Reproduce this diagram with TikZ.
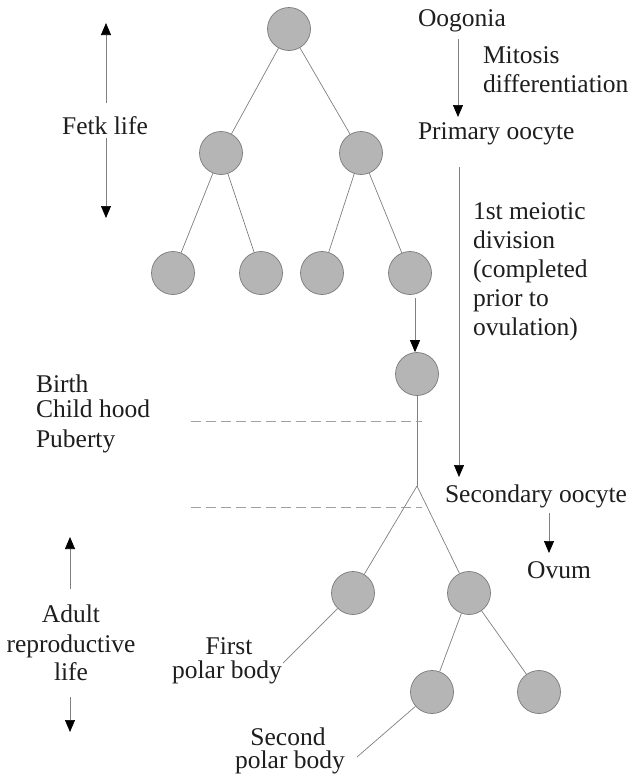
\documentclass[tikz,border=0pt]{standalone}
\usepackage{fontspec}
\setmainfont{Liberation Serif}
\usetikzlibrary{arrows.meta}
\definecolor{cellfill}{HTML}{B5B5B5}
\definecolor{celldraw}{HTML}{7A7A7A}
\definecolor{linec}{HTML}{808080}
\definecolor{dashc}{HTML}{A0A0A0}
\definecolor{txtc}{HTML}{1E1E1E}
\newcommand{\mainsize}{\fontsize{25.5}{29}\selectfont}
\begin{document}
\begin{tikzpicture}[x=1pt,y=-1pt,
  cell/.style={circle,minimum size=43pt,inner sep=0pt,fill=cellfill,draw=celldraw,line width=0.7pt},
  link/.style={draw=linec,line width=0.7pt},
  arr/.style={link,-{Triangle[length=12pt,width=10pt,color=black]}},
  dashline/.style={draw=dashc,line width=0.8pt,dash pattern=on 10pt off 5pt},
  lbl/.style={inner sep=0pt,outer sep=0pt,text=txtc,font=\mainsize}]
\fill[white] (0,0) rectangle (636,782);
\useasboundingbox (0,0) rectangle (636,782);

% fetal tree
\node[cell] (t1) at (289,29) {};
\node[cell] (l2a) at (221,153) {};
\node[cell] (l2b) at (361,153) {};
\node[cell] (l3a) at (173,273) {};
\node[cell] (l3b) at (261,273) {};
\node[cell] (l3c) at (322,273) {};
\node[cell] (l3d) at (410,273) {};
\draw[link] (t1) -- (l2a);
\draw[link] (t1) -- (l2b);
\draw[link] (l2a) -- (l3a);
\draw[link] (l2a) -- (l3b);
\draw[link] (l2b) -- (l3c);
\draw[link] (l2b) -- (l3d);

% primary oocyte after arrest
\node[cell] (c) at (417,374) {};
\coordinate (l3dout) at (415,298);
\draw[arr] (l3dout) -- (l3dout |- c.north);

% fork and adult tree
\coordinate (fork) at (417,486);
\node[cell] (b1) at (353,593) {};
\node[cell] (b2) at (469,593) {};
\node[cell] (b3) at (432,692) {};
\node[cell] (b4) at (539,692) {};
\draw[link] (c) -- (fork);
\draw[link] (fork) -- (b1);
\draw[link] (fork) -- (b2);
\draw[link] (b2) -- (b3);
\draw[link] (b2) -- (b4);
\coordinate (pb1end) at (283,663);
\coordinate (pb2end) at (357,757);
\draw[link] (b1) -- (pb1end);
\draw[link] (b3) -- (pb2end);

% dashed period lines
\coordinate (d1a) at (191,421);
\coordinate (d1b) at (422,421);
\coordinate (d2a) at (191,507);
\coordinate (d2b) at (422,507);
\draw[dashline] (d1a) -- (d1b);
\draw[dashline] (d2a) -- (d2b);

% right-hand labels
\node[lbl,anchor=base west] (oog) at (418,26) {Oogonia};
\node[lbl,anchor=base west] (mit1) at (483,63) {Mitosis};
\node[lbl,anchor=base west] (mit2) at (483,92) {differentiation};
\node[lbl,anchor=base west] (prim) at (418,139) {Primary oocyte};
\coordinate (m1a) at (458,39);
\coordinate (m1b) at (458,117);
\draw[arr] (m1a) -- (m1b);

\node[lbl,anchor=base west] (me1) at (473,219) {1st meiotic};
\node[lbl,anchor=base west] (me2) at (473,248) {division};
\node[lbl,anchor=base west] (me3) at (473,277) {(completed};
\node[lbl,anchor=base west] (me4) at (473,306) {prior to};
\node[lbl,anchor=base west] (me5) at (473,335) {ovulation)};
\coordinate (m2a) at (459,167);
\coordinate (m2b) at (459,477);
\draw[arr] (m2a) -- (m2b);

\node[lbl,anchor=base west] (sec) at (445,502) {Secondary oocyte};
\coordinate (ova) at (549,513);
\coordinate (ovb) at (549,553);
\node[lbl,anchor=base] (ovum) at (559,578) {Ovum};
\draw[arr] (ova) -- (ovb);

% left-hand labels
\node[lbl,anchor=base] (fetk) at (105,134) {Fetk life};
\coordinate (f1a) at (106,103);
\coordinate (f1b) at (106,23);
\coordinate (f2a) at (106,138);
\coordinate (f2b) at (106,218);
\draw[arr] (f1a) -- (f1b);
\draw[arr] (f2a) -- (f2b);

\node[lbl,anchor=base west] (birth) at (36,392) {Birth};
\node[lbl,anchor=base west] (child) at (36,417) {Child hood};
\node[lbl,anchor=base west] (pub) at (36,447) {Puberty};

\node[lbl,anchor=base] (ad1) at (71,622) {Adult};
\node[lbl,anchor=base] (ad2) at (71,652) {reproductive};
\node[lbl,anchor=base] (ad3) at (71,680) {life};
\coordinate (a1a) at (70,589);
\coordinate (a1b) at (70,537);
\coordinate (a2a) at (70,697);
\coordinate (a2b) at (70,732);
\draw[arr] (a1a) -- (a1b);
\draw[arr] (a2a) -- (a2b);

\node[lbl,anchor=base] (fp1) at (229,654) {First};
\node[lbl,anchor=base] (fp2) at (227,678) {polar body};
\node[lbl,anchor=base] (sp1) at (288,745) {Second};
\node[lbl,anchor=base] (sp2) at (290,768) {polar body};
\end{tikzpicture}
\end{document}
